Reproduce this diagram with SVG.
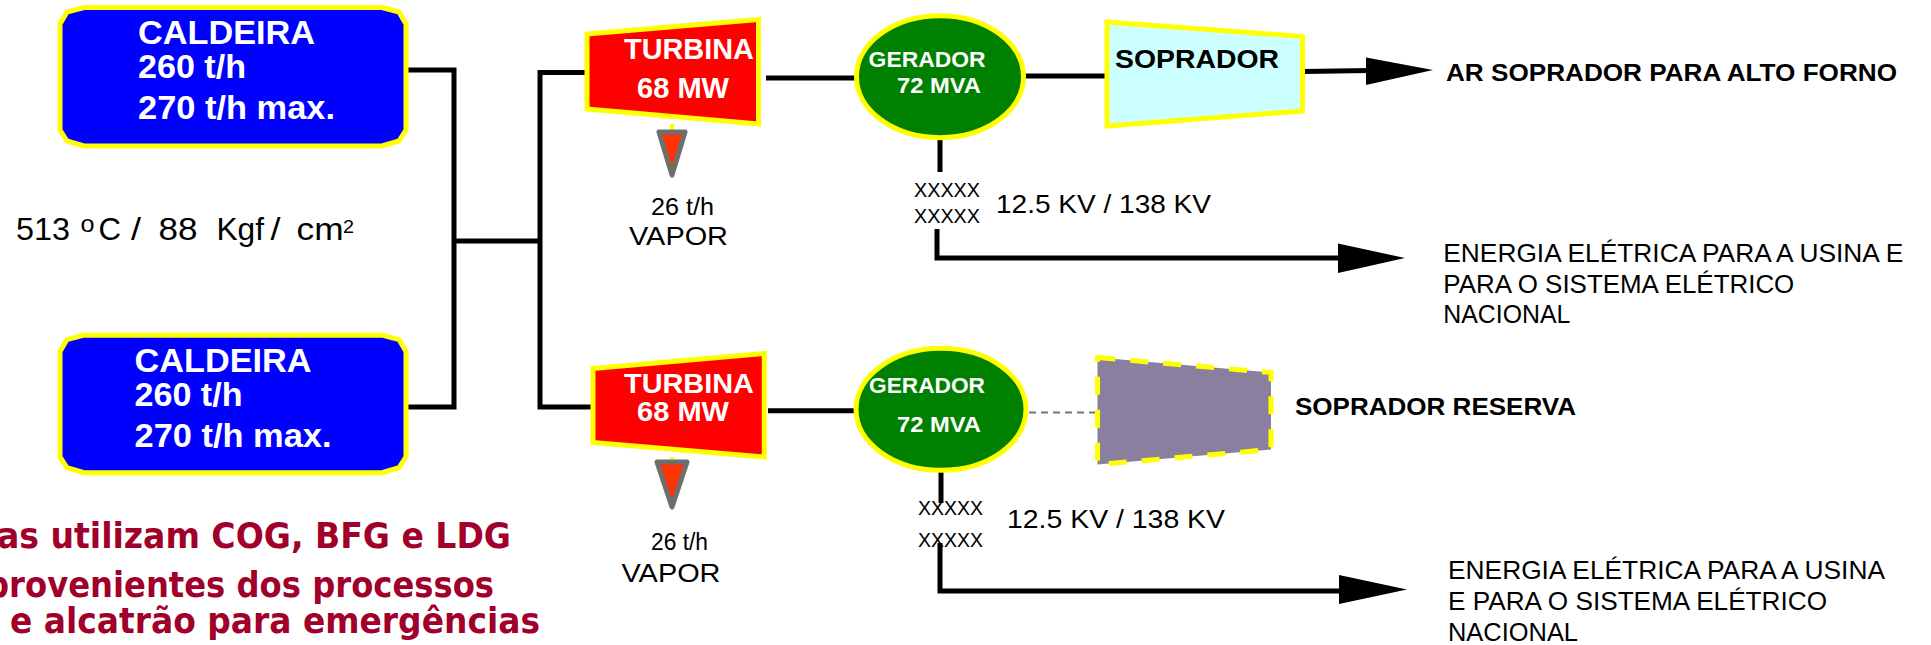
<svg xmlns="http://www.w3.org/2000/svg" width="1931" height="645" viewBox="0 0 1931 645">
<style>
text{font-family:"Liberation Sans",Arial,sans-serif;}
.wb{fill:#fff;font-weight:bold;}
.kb{fill:#000;font-weight:bold;}
.k{fill:#000;}
.red{fill:#a0002a;font-family:"DejaVu Sans","Liberation Sans",sans-serif;font-weight:bold;font-size:36px;}
.ln{stroke:#000;stroke-width:5;fill:none;}
.cald{fill:#0000ff;stroke:#ffff00;stroke-width:5;}
.turb{fill:#ff0000;stroke:#ffff00;stroke-width:5;}
.ger{fill:#008000;stroke:#ffff00;stroke-width:5;}
.tri{fill:#ff3300;stroke:#6e6e6e;stroke-width:5;stroke-linejoin:round;}
.stub{stroke:#ffff00;stroke-width:4;}
.ah{fill:#000;}
</style>
<defs>
<path id="caldShape" d="M84,7.5 H382 L399,12 L406,24 V130 L399,141 L382,146 H84 L67,141 L60,130 V24 L67,12 Z"/>
</defs>

<g id="connectors">
<polyline class="ln" points="404,70 454,70 454,407 404,407"/>
<line class="ln" x1="454" y1="241" x2="540" y2="241"/>
<polyline class="ln" points="589,72.5 540,72.5 540,407 593,407"/>
<line class="ln" x1="766" y1="78" x2="855" y2="78"/>
<line class="ln" x1="1024" y1="76" x2="1107" y2="76"/>
<line class="ln" x1="1303" y1="71.5" x2="1370" y2="70.5"/>
<polygon class="ah" points="1366,57.5 1433,70 1366,85"/>
<line class="ln" x1="940" y1="138" x2="940" y2="172"/>
<polyline class="ln" points="937,229 937,258 1342,258"/>
<polygon class="ah" points="1338,243.5 1405,258 1338,273"/>
<line class="ln" x1="768" y1="410.7" x2="856" y2="410.7"/>
<line x1="1029" y1="412.5" x2="1097" y2="412.5" stroke="#777" stroke-width="2" stroke-dasharray="7 5"/>
<line class="ln" x1="941" y1="470" x2="941" y2="503"/>
<polyline class="ln" points="940,543 940,591 1342,591"/>
<polygon class="ah" points="1339,575 1407,589.5 1339,604"/>
</g>

<g id="caldeira1">
<use href="#caldShape" class="cald"/>
<text class="wb" x="138" y="43.5" font-size="33" textLength="177" lengthAdjust="spacingAndGlyphs">CALDEIRA</text>
<text class="wb" x="138" y="77.5" font-size="33" textLength="108" lengthAdjust="spacingAndGlyphs">260 t/h</text>
<text class="wb" x="138" y="118.5" font-size="33" textLength="197" lengthAdjust="spacingAndGlyphs">270 t/h max.</text>
</g>

<g id="caldeira2">
<use href="#caldShape" class="cald" transform="translate(0,327.7) scale(1,0.993)"/>
<text class="wb" x="134.5" y="372" font-size="33" textLength="177" lengthAdjust="spacingAndGlyphs">CALDEIRA</text>
<text class="wb" x="134.5" y="406" font-size="33" textLength="108" lengthAdjust="spacingAndGlyphs">260 t/h</text>
<text class="wb" x="134.5" y="447" font-size="33" textLength="197" lengthAdjust="spacingAndGlyphs">270 t/h max.</text>
</g>

<g id="condicoes">
<text class="k" x="16" y="240" font-size="31" textLength="54" lengthAdjust="spacingAndGlyphs">513</text>
<text class="k" x="80.5" y="232" font-size="23" textLength="14" lengthAdjust="spacingAndGlyphs">o</text>
<text class="k" x="98.5" y="240" font-size="31" textLength="22.5" lengthAdjust="spacingAndGlyphs">C</text>
<text class="k" x="131" y="240" font-size="31" textLength="10" lengthAdjust="spacingAndGlyphs">/</text>
<text class="k" x="158.5" y="240" font-size="31" textLength="39" lengthAdjust="spacingAndGlyphs">88</text>
<text class="k" x="216.5" y="240" font-size="31" textLength="47.5" lengthAdjust="spacingAndGlyphs">Kgf</text>
<text class="k" x="270.5" y="240" font-size="31" textLength="10" lengthAdjust="spacingAndGlyphs">/</text>
<text class="k" x="296.5" y="240" font-size="31" textLength="47" lengthAdjust="spacingAndGlyphs">cm</text>
<text class="k" x="343" y="233" font-size="19" textLength="11" lengthAdjust="spacingAndGlyphs">2</text>
</g>

<g id="turbina1">
<line class="stub" x1="672" y1="124" x2="672" y2="131"/>
<polygon class="turb" points="587,34 758.5,19.5 758.5,124 587,109"/>
<text class="wb" x="624" y="59.3" font-size="29" textLength="130" lengthAdjust="spacingAndGlyphs">TURBINA</text>
<text class="wb" x="637" y="98.3" font-size="29" textLength="92" lengthAdjust="spacingAndGlyphs">68 MW</text>
<polygon class="tri" points="659,132 685,132 672,175"/>
<text class="k" x="651" y="215" font-size="23" textLength="63" lengthAdjust="spacingAndGlyphs">26 t/h</text>
<text class="k" x="629" y="245" font-size="26" textLength="99" lengthAdjust="spacingAndGlyphs">VAPOR</text>
</g>

<g id="turbina2">
<line class="stub" x1="672" y1="457" x2="672" y2="463"/>
<polygon class="turb" points="593,368.5 764.3,353.5 764.3,457 593,442.5"/>
<text class="wb" x="624" y="393" font-size="28" textLength="130" lengthAdjust="spacingAndGlyphs">TURBINA</text>
<text class="wb" x="637" y="421" font-size="28" textLength="92" lengthAdjust="spacingAndGlyphs">68 MW</text>
<polygon class="tri" points="657,462 687,462 672,507"/>
<text class="k" x="651" y="550" font-size="23" textLength="57" lengthAdjust="spacingAndGlyphs">26 t/h</text>
<text class="k" x="621.5" y="581.7" font-size="26" textLength="99" lengthAdjust="spacingAndGlyphs">VAPOR</text>
</g>

<g id="gerador1">
<ellipse class="ger" cx="940" cy="76.7" rx="83.5" ry="61"/>
<text class="wb" x="868.6" y="66.7" font-size="22" textLength="117" lengthAdjust="spacingAndGlyphs">GERADOR</text>
<text class="wb" x="897" y="93.3" font-size="22" textLength="84" lengthAdjust="spacingAndGlyphs">72 MVA</text>
</g>

<g id="gerador2">
<ellipse class="ger" cx="941" cy="409.3" rx="85" ry="61"/>
<text class="wb" x="869" y="392.7" font-size="22" textLength="116" lengthAdjust="spacingAndGlyphs">GERADOR</text>
<text class="wb" x="897" y="431.7" font-size="22" textLength="84" lengthAdjust="spacingAndGlyphs">72 MVA</text>
</g>

<g id="transformador1">
<text class="k" x="914" y="197" font-size="19.5" textLength="66" lengthAdjust="spacingAndGlyphs">XXXXX</text>
<text class="k" x="914" y="223" font-size="19.5" textLength="66" lengthAdjust="spacingAndGlyphs">XXXXX</text>
<text class="k" x="996" y="213" font-size="26" textLength="215" lengthAdjust="spacingAndGlyphs">12.5 KV / 138 KV</text>
</g>

<g id="transformador2">
<text class="k" x="918" y="515" font-size="19.5" textLength="65" lengthAdjust="spacingAndGlyphs">XXXXX</text>
<text class="k" x="918" y="546.7" font-size="19.5" textLength="65" lengthAdjust="spacingAndGlyphs">XXXXX</text>
<text class="k" x="1007" y="528.3" font-size="26" textLength="218" lengthAdjust="spacingAndGlyphs">12.5 KV / 138 KV</text>
</g>

<g id="soprador">
<polygon points="1107,22 1302.5,36.5 1302.5,111 1107,126" fill="#ccffff" stroke="#ffff00" stroke-width="5"/>
<text class="kb" x="1115" y="68.3" font-size="26" textLength="164" lengthAdjust="spacingAndGlyphs">SOPRADOR</text>
</g>

<g id="soprador-reserva">
<polygon points="1097.5,357.5 1271,372.5 1271,449.5 1097.5,464.5" fill="#8a7f9f" stroke="#ffff00" stroke-width="5" stroke-dasharray="18 15"/>
<text class="kb" x="1295" y="415" font-size="24.7" textLength="281" lengthAdjust="spacingAndGlyphs">SOPRADOR RESERVA</text>
</g>

<g id="saida-ar">
<text class="kb" x="1446" y="80.7" font-size="24" textLength="451" lengthAdjust="spacingAndGlyphs">AR SOPRADOR PARA ALTO FORNO</text>
</g>

<g id="saida-energia1">
<text class="k" x="1443.3" y="261.7" font-size="25.5" textLength="460" lengthAdjust="spacingAndGlyphs">ENERGIA ELÉTRICA PARA A USINA E</text>
<text class="k" x="1443.3" y="292.7" font-size="25.5" textLength="351" lengthAdjust="spacingAndGlyphs">PARA O SISTEMA ELÉTRICO</text>
<text class="k" x="1443.3" y="322.7" font-size="25.5" textLength="127" lengthAdjust="spacingAndGlyphs">NACIONAL</text>
</g>

<g id="saida-energia2">
<text class="k" x="1448" y="579" font-size="25.5" textLength="437" lengthAdjust="spacingAndGlyphs">ENERGIA ELÉTRICA PARA A USINA</text>
<text class="k" x="1448" y="610" font-size="25.5" textLength="379" lengthAdjust="spacingAndGlyphs">E PARA O SISTEMA ELÉTRICO</text>
<text class="k" x="1448" y="640.7" font-size="25.5" textLength="130" lengthAdjust="spacingAndGlyphs">NACIONAL</text>
</g>

<g id="nota">
<text class="red" x="-3" y="548.3" textLength="514" lengthAdjust="spacingAndGlyphs">as utilizam COG, BFG e LDG</text>
<text class="red" x="-14" y="596.7" textLength="508" lengthAdjust="spacingAndGlyphs">provenientes dos processos</text>
<text class="red" x="10" y="633.3" textLength="530" lengthAdjust="spacingAndGlyphs">e alcatrão para emergências</text>
</g>
</svg>
